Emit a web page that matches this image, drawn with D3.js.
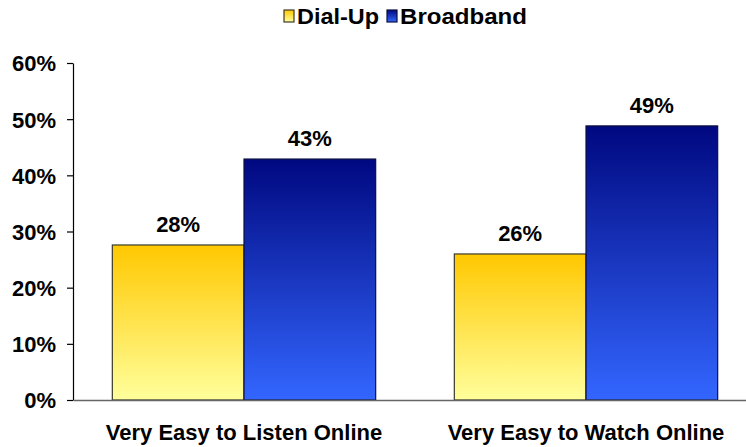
<!DOCTYPE html>
<html>
<head>
<meta charset="utf-8">
<script src="https://cdn.jsdelivr.net/npm/d3@7"></script>
<style>
  body { margin: 0; background: #fff; }
  svg { display: block; font-family: "Liberation Sans", Arial, sans-serif; }
</style>
</head>
<body>
<svg id="chart" width="746" height="447"></svg>
<script>
const categories = ['Very Easy to Listen Online', 'Very Easy to Watch Online'];
const seriesNames = ['Dial-Up', 'Broadband'];
const dialUp = [27.6, 26.0];
const broadband = [42.9, 48.8];
const valueLabels = [['28%', '43%'], ['26%', '49%']];
const yTicks = [0, 10, 20, 30, 40, 50, 60];

const svg = d3.select('#chart');
const margin = { top: 63, left: 73, bottom: 47 };
const plotRight = 757;
const height = 447 - margin.bottom;

const x0 = d3.scaleBand()
  .domain(categories)
  .range([margin.left, plotRight])
  .paddingInner(0.23)
  .paddingOuter(0.115);

const x1 = d3.scaleBand()
  .domain(seriesNames)
  .range([0, x0.bandwidth()]);

const y = d3.scaleLinear()
  .domain([0, 60])
  .range([height, margin.top]);

// gradients
const defs = svg.append('defs');
const grads = [
  { id: 'g-dial', top: '#ffc800', bottom: '#ffff9c' },
  { id: 'g-broad', top: '#000880', bottom: '#3366ff' }
];
grads.forEach(g => {
  const lg = defs.append('linearGradient')
    .attr('id', g.id)
    .attr('x1', 0).attr('y1', 0).attr('x2', 0).attr('y2', 1);
  lg.append('stop').attr('offset', '0%').attr('stop-color', g.top);
  lg.append('stop').attr('offset', '100%').attr('stop-color', g.bottom);
});
const fills = ['url(#g-dial)', 'url(#g-broad)'];
const strokes = ['#3a3a2a', '#0a0f40'];

const rows = categories.map((c, i) => ({
  cat: c,
  values: [dialUp[i], broadband[i]],
  labels: valueLabels[i]
}));

const groups = svg.append('g')
  .selectAll('g')
  .data(rows)
  .enter()
  .append('g')
  .attr('transform', d => `translate(${x0(d.cat)},0)`);

groups.selectAll('rect')
  .data(d => d.values.map((v, j) => ({ v, j, name: seriesNames[j] })))
  .enter()
  .append('rect')
  .attr('x', d => x1(d.name))
  .attr('y', d => y(d.v))
  .attr('width', x1.bandwidth())
  .attr('height', d => y(0) - y(d.v))
  .attr('fill', d => fills[d.j])
  .attr('stroke', d => strokes[d.j])
  .attr('stroke-width', 1.2);

groups.selectAll('text.val')
  .data(d => d.values.map((v, j) => ({ v, j, name: seriesNames[j], label: d.labels[j] })))
  .enter()
  .append('text')
  .attr('class', 'val')
  .attr('x', d => x1(d.name) + x1.bandwidth() / 2)
  .attr('y', d => y(d.v) - 13)
  .attr('text-anchor', 'middle')
  .style('font-size', '22px')
  .style('font-weight', 'bold')
  .text(d => d.label);

// y axis
const yAxis = svg.append('g')
  .attr('transform', `translate(${margin.left},0)`)
  .call(d3.axisLeft(y).tickValues(yTicks).tickFormat(d => d + '%').tickSize(6).tickSizeOuter(0));
yAxis.select('.domain').attr('stroke', '#000').attr('stroke-width', 1.2);
yAxis.selectAll('.tick line').attr('stroke', '#000').attr('stroke-width', 1.2);
yAxis.selectAll('text')
  .attr('x', -17)
  .attr('dy', '0.36em')
  .style('font-size', '22px')
  .style('font-weight', 'bold')
  .style('font-family', '"Liberation Sans", Arial, sans-serif')
  .attr('fill', '#000');

// x axis
const xAxis = svg.append('g')
  .attr('transform', `translate(0,${height})`)
  .call(d3.axisBottom(x0).tickSize(0).tickSizeOuter(0));
xAxis.select('.domain').attr('stroke', '#666').attr('stroke-width', 1.5);
xAxis.selectAll('text')
  .attr('dy', 0)
  .attr('y', 40)
  .style('font-size', '22px')
  .style('font-weight', 'bold')
  .style('font-family', '"Liberation Sans", Arial, sans-serif')
  .attr('fill', '#000');

// legend
const legend = svg.append('g');
const legendItems = [
  { name: seriesNames[0], x: 284, fill: fills[0], stroke: strokes[0] },
  { name: seriesNames[1], x: 387, fill: fills[1], stroke: strokes[1] }
];
legendItems.forEach(it => {
  legend.append('rect')
    .attr('x', it.x).attr('y', 10)
    .attr('width', 10).attr('height', 12)
    .attr('fill', it.fill)
    .attr('stroke', it.stroke)
    .attr('stroke-width', 1.2);
  legend.append('text')
    .attr('x', it.x + 13).attr('y', 24)
    .attr('textLength', it.name === 'Dial-Up' ? 82 : 127)
    .attr('lengthAdjust', 'spacingAndGlyphs')
    .style('font-size', '22px')
    .style('font-weight', 'bold')
    .text(it.name);
});
</script>
</body>
</html>
